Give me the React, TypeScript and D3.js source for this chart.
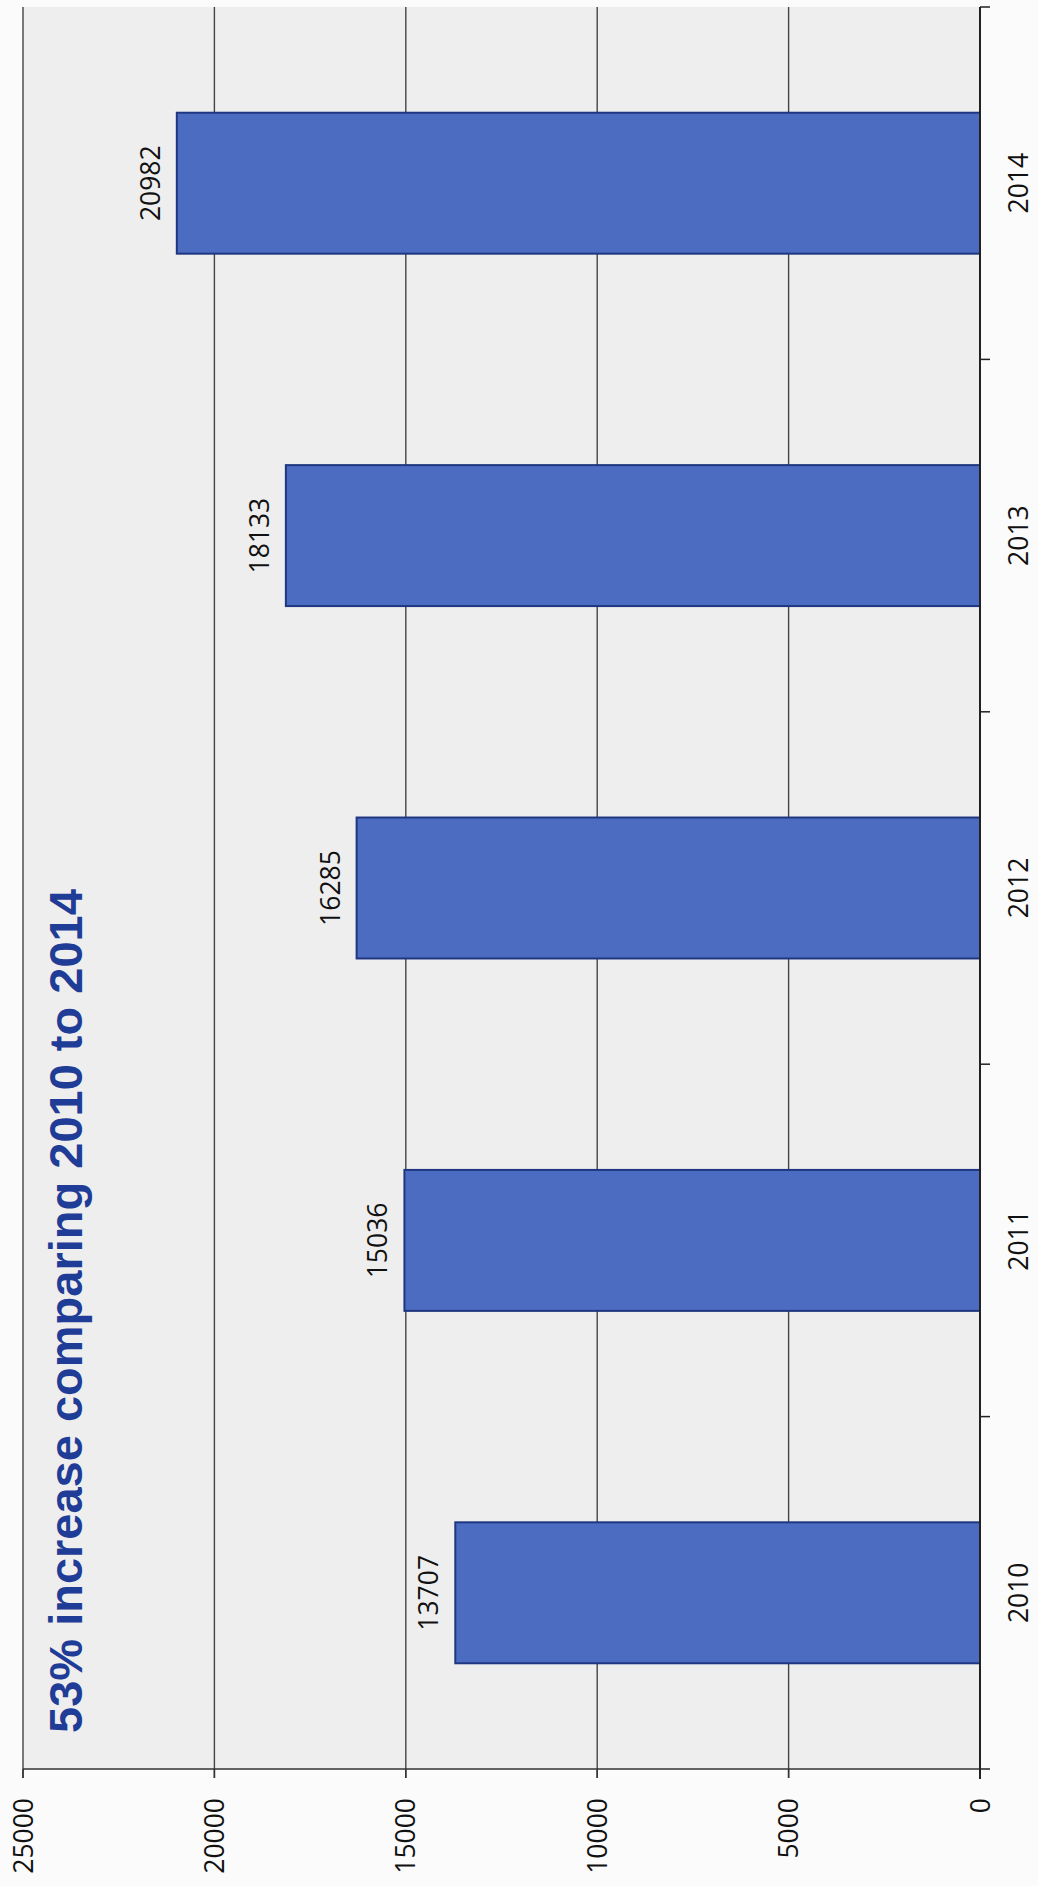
import React, { useRef, useEffect } from 'react'
import { select, scaleLinear, scaleBand } from 'd3'

const years = ['2010', '2011', '2012', '2013', '2014']
const counts = [13707, 15036, 16285, 18133, 20982]
const valueTicks = [0, 5000, 10000, 15000, 20000, 25000]
const title = '53% increase comparing 2010 to 2014'

const W = 1038
const H = 1886

function App() {
  const svgRef = useRef<SVGSVGElement | null>(null)

  useEffect(() => {
    const svg = select(svgRef.current)
    svg.selectAll('*').remove()

    // page is turned 90deg: values run right -> left, years bottom -> top
    const plot = { left: 23, right: 980, top: 7, bottom: 1769 }

    const x = scaleLinear().domain([0, 25000]).range([plot.right, plot.left])
    const y = scaleBand()
      .domain(years.slice().reverse())
      .range([plot.top, plot.bottom])
      .paddingInner(0.6)
      .paddingOuter(0.3)

    const font = "'Open Sans', 'Noto Sans', sans-serif"

    svg.append('rect')
      .attr('width', W).attr('height', H)
      .attr('fill', '#fbfbfb')

    svg.append('rect')
      .attr('x', plot.left).attr('y', plot.top)
      .attr('width', plot.right - plot.left)
      .attr('height', plot.bottom - plot.top)
      .attr('fill', '#eeeeee')

    // gridlines
    valueTicks.filter(t => t > 0).forEach(t => {
      svg.append('line')
        .attr('x1', x(t)).attr('x2', x(t))
        .attr('y1', plot.top).attr('y2', plot.bottom + 9)
        .attr('stroke', '#444')
        .attr('stroke-width', 1.4)
    })

    // bars
    years.forEach((yr, i) => {
      const v = counts[i]
      svg.append('rect')
        .attr('x', x(v))
        .attr('y', y(yr)!)
        .attr('width', x(0) - x(v))
        .attr('height', y.bandwidth())
        .attr('fill', '#4b6cc1')
        .attr('stroke', '#1f3680')
        .attr('stroke-width', 2)

      const cy = y(yr)! + y.bandwidth() / 2
      const lx = x(v) - 17
      svg.append('text')
        .attr('x', lx).attr('y', cy)
        .attr('transform', `rotate(-90, ${lx}, ${cy})`)
        .attr('text-anchor', 'middle')
        .style('font-family', font)
        .style('font-size', '26.5px')
        .attr('fill', '#111')
        .text(v)
    })

    // value axis (bottom of page)
    svg.append('line')
      .attr('x1', plot.left).attr('x2', plot.right)
      .attr('y1', plot.bottom).attr('y2', plot.bottom)
      .attr('stroke', '#333').attr('stroke-width', 1.5)

    valueTicks.forEach(t => {
      svg.append('line')
        .attr('x1', x(t)).attr('x2', x(t))
        .attr('y1', plot.bottom).attr('y2', plot.bottom + 9)
        .attr('stroke', '#333').attr('stroke-width', 1.5)
      const ty = 1798
      svg.append('text')
        .attr('x', x(t)).attr('y', ty)
        .attr('dy', '0.36em')
        .attr('transform', `rotate(-90, ${x(t)}, ${ty})`)
        .attr('text-anchor', 'end')
        .style('font-family', font)
        .style('font-size', '26.5px')
        .attr('fill', '#111')
        .text(t)
    })

    // category axis (right side of page)
    svg.append('line')
      .attr('x1', plot.right).attr('x2', plot.right)
      .attr('y1', plot.top).attr('y2', plot.bottom + 10)
      .attr('stroke', '#222').attr('stroke-width', 2)

    const step = y.step()
    const edge0 = y(years[years.length - 1])! - y.paddingOuter() * step
    for (let i = 0; i <= years.length; i++) {
      const ty = edge0 + i * step
      svg.append('line')
        .attr('x1', plot.right).attr('x2', plot.right + 10)
        .attr('y1', ty).attr('y2', ty)
        .attr('stroke', '#222').attr('stroke-width', 1.5)
    }

    years.forEach(yr => {
      const cy = y(yr)! + y.bandwidth() / 2
      const lx = 1028
      svg.append('text')
        .attr('x', lx).attr('y', cy)
        .attr('transform', `rotate(-90, ${lx}, ${cy})`)
        .attr('text-anchor', 'middle')
        .style('font-family', font)
        .style('font-size', '26.5px')
        .attr('fill', '#111')
        .text(yr)
    })

    // title inside plot
    svg.append('text')
      .attr('x', 82).attr('y', 1733)
      .attr('transform', 'rotate(-90, 82, 1733)')
      .attr('text-anchor', 'start')
      .style('font-family', "'Liberation Sans', Arial, sans-serif")
      .style('font-weight', 'bold')
      .style('font-size', '47px')
      .attr('fill', '#1f3c96')
      .text(title)
  }, [])

  return (
    <svg
      ref={svgRef}
      width={W}
      height={H}
      viewBox={`0 0 ${W} ${H}`}
      style={{ position: 'absolute', left: 0, top: 0, display: 'block' }}
    />
  )
}

export default App
